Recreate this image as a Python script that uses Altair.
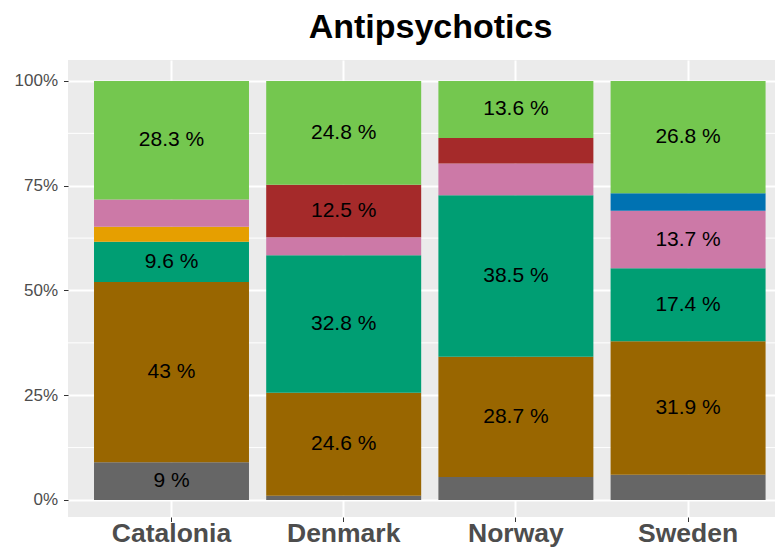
import altair as alt
import pandas as pd

countries = ["Catalonia", "Denmark", "Norway", "Sweden"]
groups = ["Group A", "Group B", "Group C", "Group D", "Group E", "Group F", "Group G", "Group H"]
colors = ["#666666", "#996600", "#009E73", "#E69F00", "#CC79A7", "#A52A2A", "#0072B2", "#74C74F"]

# share (%) per group, in country order (Catalonia, Denmark, Norway, Sweden); bottom -> top
grp_a = [9.0, 1.0, 5.5, 6.0]
grp_b = [43.0, 24.6, 28.7, 31.9]
grp_c = [9.6, 32.8, 38.5, 17.4]
grp_d = [3.6, 0.0, 0.0, 0.0]
grp_e = [6.5, 4.3, 7.6, 13.7]
grp_f = [0.0, 12.5, 6.1, 0.0]
grp_g = [0.0, 0.0, 0.0, 4.2]
grp_h = [28.3, 24.8, 13.6, 26.8]
series = [grp_a, grp_b, grp_c, grp_d, grp_e, grp_f, grp_g, grp_h]

y_ticks = [0, 25, 50, 75, 100]
y_minor = [12.5, 37.5, 62.5, 87.5]
label_min = 8.0

rows = []
for gi, (g, vals) in enumerate(zip(groups, series)):
    for c, v in zip(countries, vals):
        if v > 0:
            rows.append({"country": c, "group": g, "ord": gi, "value": v,
                         "label": f"{v:g} %" if v >= label_min else ""})
df = pd.DataFrame(rows)

FONT = "Liberation Sans"

yscale = alt.Scale(domain=[-4.06, 105], nice=False, zero=False)
xscale = alt.Scale(domain=countries, paddingInner=0.1, paddingOuter=0.1029, align=0.734)

base = alt.Chart(df).transform_joinaggregate(
    total="sum(value)", groupby=["country"]
).transform_calculate(
    pct="datum.value / datum.total * 100"
).transform_stack(
    stack="pct", groupby=["country"], as_=["y0", "y1"],
    sort=[alt.SortField("ord", order="ascending")]
).transform_calculate(
    mid="(datum.y0 + datum.y1) / 2"
)

xenc = alt.X("country:N", scale=xscale, sort=countries, title=None,
             axis=alt.Axis(labelAngle=0, labelFontSize=26.5, labelFontWeight="bold",
                           labelColor="#4D4D4D", labelFont=FONT, tickColor="#333333",
                           tickSize=4.5, labelPadding=20, labelBaseline="alphabetic",
                           domain=False, grid=True, gridColor="white", gridWidth=2,
                           bandPosition=0.5))

minor = alt.Chart(pd.DataFrame({"v": y_minor})).mark_rule(
    color="white", strokeWidth=1
).encode(y=alt.Y("v:Q", scale=yscale, title=None))

bars = base.mark_bar().encode(
    x=xenc,
    y=alt.Y("y0:Q", scale=yscale, title=None,
            axis=alt.Axis(values=y_ticks, labelExpr="datum.value + '%'",
                          labelFontSize=17, labelColor="#4D4D4D", labelFont=FONT,
                          tickColor="#333333", tickSize=4.5, labelPadding=6,
                          domain=False, grid=True, gridColor="white", gridWidth=2)),
    y2="y1:Q",
    color=alt.Color("group:N", scale=alt.Scale(domain=groups, range=colors), legend=None),
)

text = base.mark_text(fontSize=21, font=FONT, color="black", baseline="middle").encode(
    x=alt.X("country:N", scale=xscale, sort=countries, title=None),
    y=alt.Y("mid:Q", scale=yscale, title=None),
    text="label:N",
)

chart = alt.layer(minor, bars, text).properties(
    width=707,
    height=457,
    autosize=alt.AutoSizeParams(type="none"),
    padding={"left": 60, "top": 52, "right": 0, "bottom": 31},
    background="white",
    title=alt.TitleParams("Antipsychotics", fontSize=34, fontWeight="bold", font=FONT,
                          color="black", anchor="middle", baseline="alphabetic",
                          offset=22, dx=9, dy=34),
).configure_view(fill="#EBEBEB", stroke=None)

chart.save("out.html", embed_options={"renderer": "svg", "actions": False})
